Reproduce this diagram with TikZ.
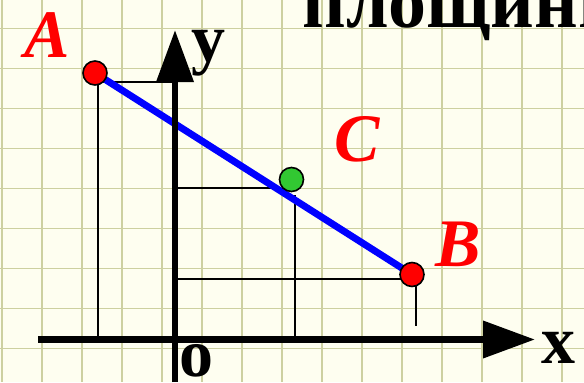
\documentclass[tikz,border=0pt]{standalone}
\usepackage{fontspec}
\setmainfont{Liberation Serif}
\usetikzlibrary{arrows.meta}
\definecolor{paper}{RGB}{254,254,240}
\definecolor{gridc}{RGB}{205,208,160}
\definecolor{ptred}{RGB}{255,0,0}
\definecolor{ptgreen}{RGB}{50,200,50}
\begin{document}
\begin{tikzpicture}[x=0.75pt,y=-0.75pt,
  gridline/.style={draw=gridc,line width=1.2pt},
  thin/.style={draw=black,line width=1.5pt},
  axis/.style={draw=black,line width=5.2pt,-{Triangle[length=39pt,width=27pt]}},
  dot/.style={circle,draw=black,line width=1.2pt,minimum size=18pt,inner sep=0pt},
  ptlabel/.style={text=ptred,font=\fontsize{51}{51}\selectfont\bfseries\itshape,inner sep=0pt,anchor=base},
  axlabel/.style={text=black,font=\fontsize{51}{51}\selectfont\bfseries,inner sep=0pt,anchor=base}]
\useasboundingbox (0,0) rectangle (584,382);
\fill[paper] (0,0) rectangle (584,382);
\foreach \i in {0,...,14} \draw[gridline] ({1.7+40*\i},0) -- ({1.7+40*\i},382);
\foreach \j in {0,...,8} \draw[gridline] (0,{28.3+40*\j}) -- (584,{28.3+40*\j});
% title fragment (cut by the picture's edges, as in the reference)
\begin{scope}
\clip (0,0) rectangle (584,382);
\node[inner sep=0pt,anchor=base west,font=\fontsize{57}{57}\selectfont\bfseries] (title) at (302,27) {площини};
\end{scope}
% helper coordinates
\coordinate (A) at (95,73);
\coordinate (B) at (412,274.5);
\coordinate (C) at (291.5,179.5);
\coordinate (Ah) at (98,82);
\coordinate (Ayax) at (175,82);
\coordinate (Axax) at (98,339.5);
\coordinate (Ch) at (272,188);
\coordinate (Cyax) at (175,188);
\coordinate (Cv) at (295,195);
\coordinate (Cxax) at (295,339.5);
\coordinate (Byax) at (175,278.5);
\coordinate (Bh) at (412,278.5);
\coordinate (Bv) at (416,275);
\coordinate (Bvend) at (416,326);
\coordinate (xs) at (38,339.5);
\coordinate (xe) at (535,339.5);
\coordinate (ys) at (175,382);
\coordinate (ye) at (175,30);
% projection lines
\draw[thin] (Ah) -- (Ayax);
\draw[thin] (Ah) -- (Axax);
\draw[thin] (Cyax) -- (Ch);
\draw[thin] (Cv) -- (Cxax);
\draw[thin] (Byax) -- (Bh);
\draw[thin] (Bv) -- (Bvend);
% segment AB
\draw[blue,line width=5.2pt] (A) -- (B);
% axes
\draw[axis] (xs) -- (xe);
\draw[axis] (ys) -- (ye);
% points
\node[dot,fill=ptred] (pA) at (A) {};
\node[dot,fill=ptred] (pB) at (B) {};
\node[dot,fill=ptgreen] (pC) at (C) {};
% labels
\node[ptlabel] (lA) at (47,57) {A};
\node[ptlabel] (lB) at (458.5,266) {B};
\node[ptlabel] (lC) at (357.5,161) {C};
\node[axlabel] (ly) at (208,61) {у};
\node[axlabel] (lx) at (558.5,363) {х};
\node[axlabel] (lo) at (196.5,376) {о};
\end{tikzpicture}
\end{document}
